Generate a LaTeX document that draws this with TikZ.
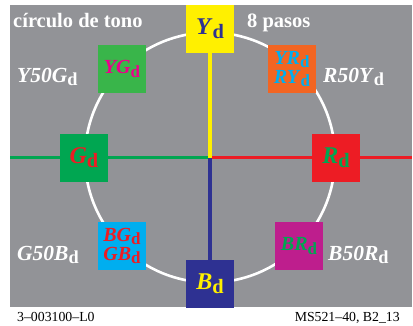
\documentclass[tikz,border=0pt]{standalone}
\usepackage{fontspec}
\setmainfont{Liberation Serif}
\usetikzlibrary{positioning}

\definecolor{chartgray}{RGB}{146,147,151}
\definecolor{hueY}{RGB}{255,240,0}
\definecolor{hueB}{RGB}{46,49,146}
\definecolor{hueG}{RGB}{0,166,81}
\definecolor{hueR}{RGB}{237,28,36}
\definecolor{hueYG}{RGB}{57,181,74}
\definecolor{hueYR}{RGB}{242,101,34}
\definecolor{hueBG}{RGB}{0,174,239}
\definecolor{hueBR}{RGB}{190,30,141}
\definecolor{hueM}{RGB}{236,0,140}

% hue name with the lowered upright d
\newcommand{\hd}[1]{\textit{#1}\raisebox{-0.17em}{\scalebox{0.85}{\upshape d}}}

\begin{document}
\begin{tikzpicture}[x=1pt,y=-1pt,
  huebox/.style={minimum size=48pt,inner sep=0pt,align=center,
    font=\fontsize{20}{19}\selectfont\bfseries},
  mainbox/.style={huebox,font=\fontsize{24}{24}\selectfont\bfseries},
  tone/.style={white,anchor=base west,inner sep=0pt,
    font=\fontsize{21.5}{21.5}\selectfont\bfseries},
  foot/.style={anchor=base west,inner sep=0pt,font=\fontsize{13.8}{14}\selectfont},
  axis/.style={line width=3.2pt}]
  \useasboundingbox (0,0) rectangle (413,325);
  \fill[chartgray] (10,5) rectangle (412,307);
  % centre and axis ends
  \coordinate (c) at (210,157.5);
  \coordinate (west) at (10,157.5);
  \coordinate (east) at (412,157.5);
  \coordinate (north) at (210,5);
  \coordinate (south) at (210,307);
  \draw[white,line width=2.6pt] (c) circle (125pt);
  \draw[axis,hueG] (west) -- (c);
  \draw[axis,hueR] (c) -- (east);
  \draw[axis,hueY] (north) -- (c);
  \draw[axis,hueB] (c) -- (south);
  % hue squares
  \node[mainbox,fill=hueY,text=hueB] (Y) at (210,29) {\hd{Y}};
  \node[mainbox,fill=hueB,text=hueY] (B) at (210,283.5) {\hd{B}};
  \node[mainbox,fill=hueG,text=hueR] (G) at (84,158) {\hd{G}};
  \node[mainbox,fill=hueR,text=hueG] (R) at (336,158) {\hd{R}};
  \node[huebox,fill=hueYG,text=hueM] (YG) at (122,69) {\hd{YG}};
  \node[huebox,fill=hueYR,text=hueBG] (YR) at (292,69) {\hd{YR}\\\hd{RY}};
  \node[huebox,fill=hueBG,text=hueR] (BG) at (122,246) {\hd{BG}\\\hd{GB}};
  \node[huebox,fill=hueBR,text=hueG] (BR) at (299,246) {\hd{BR}};
  % labels
  \node[tone,font=\fontsize{20.5}{21}\selectfont\bfseries] (title) at (13,27) {círculo de tono};
  \node[tone,font=\fontsize{20.5}{21}\selectfont\bfseries] (steps) at (247,27) {8 pasos};
  \node[tone] (YGmid) at (17,82) {\hd{Y50G}};
  \node[tone] (RYmid) at (323,82) {\hd{R50Y}};
  \node[tone] (GBmid) at (17,260) {\hd{G50B}};
  \node[tone] (BRmid) at (328,260) {\hd{B50R}};
  \node[foot] (code) at (17,321) {3–003100–L0};
  \node[foot,anchor=base east] (ref) at (400,321) {MS521–40, B2\_13};
\end{tikzpicture}
\end{document}
